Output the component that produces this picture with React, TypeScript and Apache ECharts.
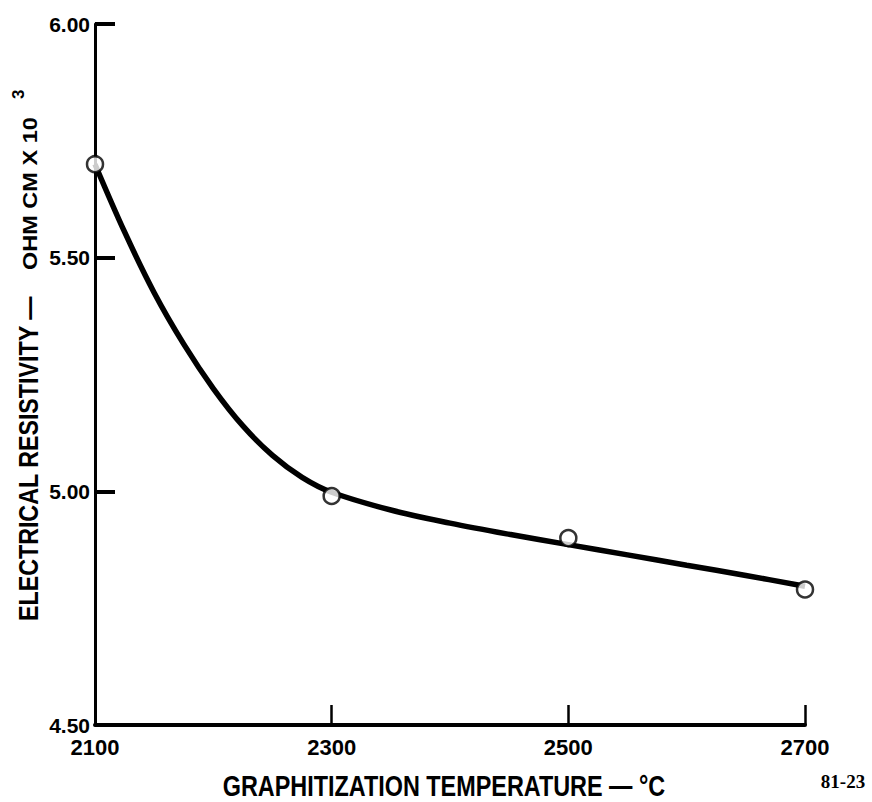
import React, { useEffect, useRef } from "react";
import * as echarts from "echarts";

// Measured data points (graphitization temperature °C, resistivity ohm·cm ×10³)
const tempPoints = [2100, 2300, 2500, 2700];
const resistPoints = [5.7, 4.99, 4.9, 4.79];

// Hand-drawn fitted curve
const curveTemps = [2100, 2125, 2150, 2175, 2200, 2225, 2250, 2275, 2300, 2350, 2400, 2450, 2500, 2550, 2600, 2650, 2700];
const curveResist = [5.7, 5.555, 5.425, 5.315, 5.22, 5.14, 5.077, 5.03, 4.998, 4.96, 4.932, 4.908, 4.886, 4.864, 4.842, 4.82, 4.797];

const xTicks = [2100, 2300, 2500, 2700];
const yTicks = [4.5, 5.0, 5.5, 6.0];

const FONT = "'Liberation Sans', Arial, sans-serif";

export default function App() {
  const ref = useRef<HTMLDivElement>(null);

  useEffect(() => {
    if (!ref.current) return;
    const chart = echarts.init(ref.current, undefined, { renderer: "svg" });
    const option: any = {
      animation: false,
      backgroundColor: "#ffffff",
      grid: { left: 95, right: 67, top: 24, bottom: 77, containLabel: false },
      xAxis: {
        type: "value",
        min: xTicks[0],
        max: xTicks[xTicks.length - 1],
        interval: 200,
        splitLine: { show: false },
        axisLine: { show: true, lineStyle: { color: "#000", width: 4 } },
        axisTick: { show: true, inside: true, length: 20, lineStyle: { color: "#000", width: 2.5 } },
        axisLabel: {
          color: "#000",
          fontFamily: FONT,
          fontWeight: "bold",
          fontSize: 22,
          margin: 11,
          formatter: (v: number) => String(v),
        },
      },
      yAxis: {
        type: "value",
        min: yTicks[0],
        max: yTicks[yTicks.length - 1],
        interval: 0.5,
        splitLine: { show: false },
        axisLine: { show: true, lineStyle: { color: "#000", width: 3 } },
        axisTick: { show: true, inside: true, length: 20, lineStyle: { color: "#000", width: 4 } },
        axisLabel: {
          color: "#000",
          fontFamily: FONT,
          fontWeight: "bold",
          fontSize: 21,
          margin: 5,
          formatter: (v: number) => v.toFixed(2),
        },
      },
      graphic: [
        {
          type: "text",
          x: 28,
          y: 621,
          rotation: Math.PI / 2,
          scaleX: 0.83,
          style: {
            text: "ELECTRICAL RESISTIVITY —",
            align: "left",
            verticalAlign: "middle",
            fontFamily: FONT,
            fontWeight: "bold",
            fontSize: 28,
            fill: "#000",
          },
        },
        {
          type: "text",
          x: 30,
          y: 270,
          rotation: Math.PI / 2,
          scaleX: 1.12,
          style: {
            text: "OHM CM X 10",
            align: "left",
            verticalAlign: "middle",
            fontFamily: FONT,
            fontWeight: "bold",
            fontSize: 21,
            fill: "#000",
          },
        },
        {
          type: "text",
          x: 18,
          y: 99,
          rotation: Math.PI / 2,
          style: {
            text: "3",
            align: "left",
            verticalAlign: "middle",
            fontFamily: FONT,
            fontWeight: "bold",
            fontSize: 17,
            fill: "#000",
          },
        },
        {
          type: "text",
          x: 444,
          y: 786,
          scaleX: 0.78,
          style: {
            text: "GRAPHITIZATION TEMPERATURE — °C",
            align: "center",
            verticalAlign: "middle",
            fontFamily: FONT,
            fontWeight: "bold",
            fontSize: 30,
            fill: "#000",
          },
        },
        {
          type: "text",
          x: 843,
          y: 781,
          style: {
            text: "81-23",
            align: "center",
            verticalAlign: "middle",
            fontFamily: "'Liberation Serif', 'DejaVu Serif', serif",
            fontWeight: "bold",
            fontSize: 19,
            fill: "#000",
          },
        },
      ],
      series: [
        {
          type: "line",
          data: curveTemps.map((t, i) => [t, curveResist[i]]),
          smooth: 0.35,
          showSymbol: false,
          symbol: "none",
          lineStyle: { color: "#000", width: 5.5 },
          z: 2,
        },
        {
          type: "scatter",
          data: tempPoints.map((t, i) => [t, resistPoints[i]]),
          symbol: "circle",
          symbolSize: 16,
          itemStyle: { color: "#fff", borderColor: "#000", borderWidth: 2.5 },
          z: 3,
        },
      ],
    };
    chart.setOption(option);
    return () => {
      chart.dispose();
    };
  }, []);

  return (
    <div
      ref={ref}
      style={{ position: "fixed", left: 0, top: 0, width: 872, height: 802, background: "#fff" }}
    />
  );
}
